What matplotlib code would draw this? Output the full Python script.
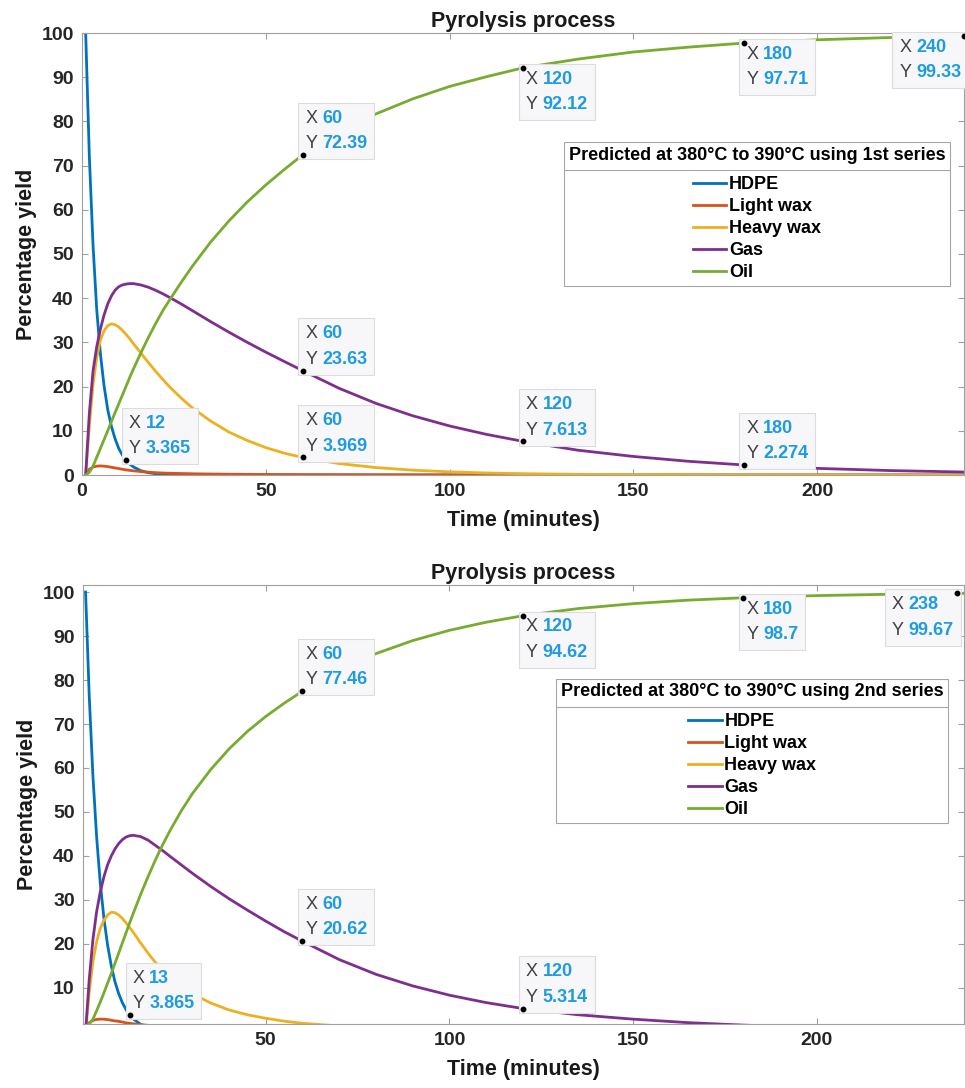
import matplotlib
matplotlib.use("Agg")
import matplotlib.pyplot as plt
from matplotlib.lines import Line2D
from matplotlib.offsetbox import AnnotationBbox, HPacker, VPacker, TextArea

plt.rcParams["font.family"] = ["Liberation Sans", "DejaVu Sans"]
plt.rcParams["font.weight"] = "bold"

# time grid (minutes) shared by both model runs
time = [1, 2, 3, 4, 5, 6, 7, 8, 9, 10, 11, 12, 13, 14, 16, 18, 20, 22, 24, 27, 30,
        35, 40, 45, 50, 55, 60, 70, 80, 90, 100, 110, 120, 135, 150, 165, 180,
        200, 220, 240]

names = ["HDPE", "Light wax", "Heavy wax", "Gas", "Oil"]

# ---- 1st series ----
hdpe_1 = [100, 72, 52, 37.5, 27.5, 20.2, 14.8, 11.0, 8.2, 6.0, 4.5, 3.365, 2.48, 1.82,
          0.98, 0.53, 0.29, 0.155, 0.084, 0.033, 0.013] + [0] * 19
light_1 = [0, 1.3, 1.8, 2.0, 2.05, 2.0, 1.9, 1.75, 1.6, 1.45, 1.3, 1.15, 1.05, 0.95,
           0.78, 0.64, 0.53, 0.45, 0.39, 0.33, 0.28, 0.22, 0.18, 0.15, 0.12, 0.10, 0.08,
           0.06, 0.04, 0.03, 0.02, 0.015, 0.01, 0.01, 0, 0, 0, 0, 0, 0]
heavy_1 = [0, 11, 20.5, 26.5, 30.5, 32.6, 33.8, 34.2, 34.0, 33.5, 32.7, 31.8, 30.8, 29.7,
           27.6, 25.5, 23.5, 21.6, 19.8, 17.4, 15.2, 12.2, 9.7, 7.8, 6.2, 4.95, 3.969,
           2.58, 1.68, 1.09, 0.71, 0.46, 0.30, 0.16, 0.08, 0.04, 0.02, 0.01, 0, 0]
gas_1 = [0, 14, 23.5, 29, 33, 36.2, 38.7, 40.5, 41.8, 42.6, 43.0, 43.2, 43.3, 43.3,
         43.0, 42.5, 41.8, 41.0, 40.1, 38.7, 37.2, 34.7, 32.3, 30.0, 27.8, 25.7, 23.63,
         19.6, 16.2, 13.4, 11.1, 9.2, 7.613, 5.6, 4.2, 3.1, 2.274, 1.5, 1.0, 0.67]
oil_1 = [0, 0.6, 2.0, 4.0, 6.0, 8.0, 10.0, 12.1, 14.1, 16.1, 18.1, 20.1, 22.1, 24.0,
         27.6, 31.0, 34.2, 37.2, 39.8, 43.6, 47.2, 52.7, 57.5, 61.8, 65.6, 69.1, 72.39,
         77.5, 81.7, 85.1, 87.9, 90.1, 92.12, 94.1, 95.7, 96.8, 97.71, 98.46, 98.98, 99.33]

# ---- 2nd series ----
hdpe_2 = [100, 76.3, 58.2, 44.4, 33.8, 25.8, 19.7, 15.0, 11.4, 8.73, 6.66, 5.08, 3.865, 2.95,
          1.71, 1.0, 0.58, 0.34, 0.2, 0.087, 0.039] + [0] * 19
light_2 = [0, 2.1, 2.6, 2.85, 2.9, 2.9, 2.8, 2.65, 2.5, 2.4, 2.25, 2.05, 1.95, 1.85,
           1.65, 1.5, 1.35, 1.2, 1.1, 0.95, 0.8, 0.65, 0.5, 0.4, 0.32, 0.25, 0.2,
           0.13, 0.08, 0.05, 0.03, 0.02, 0.01, 0, 0, 0, 0, 0, 0, 0]
heavy_2 = [0, 9, 16, 20.5, 23.5, 25.4, 26.6, 27.2, 27.1, 26.6, 25.8, 24.8, 23.7, 22.6,
           20.2, 17.9, 15.8, 14.0, 12.4, 10.4, 8.7, 6.6, 5.0, 3.9, 3.1, 2.45, 1.95,
           1.35, 0.95, 0.65, 0.45, 0.3, 0.2, 0.1, 0.05, 0.03, 0.02, 0.01, 0, 0]
gas_2 = [0, 12, 21, 27.3, 31.8, 35.3, 38.0, 40.0, 41.6, 42.8, 43.7, 44.3, 44.6, 44.7,
         44.4, 43.6, 42.4, 41.2, 39.9, 38.0, 36.1, 33.1, 30.3, 27.7, 25.2, 22.8, 20.62,
         16.45, 13.1, 10.46, 8.35, 6.66, 5.314, 3.9, 2.9, 2.1, 1.55, 1.0, 0.65, 0.4]
oil_2 = [0, 1.8, 2.9, 4.8, 6.8, 8.9, 11.1, 13.3, 15.6, 17.9, 20.2, 22.5, 24.8, 27.0,
         31.3, 35.3, 39.1, 42.6, 45.8, 50.2, 54.1, 59.6, 64.3, 68.3, 71.7, 74.7, 77.46,
         82.2, 86.0, 88.96, 91.3, 93.14, 94.62, 96.24, 97.36, 98.16, 98.7, 99.19, 99.5, 99.68]

# data tips shown on each panel
tips_x_1 = [12, 60, 60, 60, 120, 120, 180, 180, 240]
tips_y_1 = [3.365, 72.39, 23.63, 3.969, 92.12, 7.613, 97.71, 2.274, 99.33]
tips_x_2 = [13, 60, 60, 120, 120, 180, 238]
tips_y_2 = [3.865, 77.46, 20.62, 94.62, 5.314, 98.7, 99.67]
tips_side_1 = ["ur", "ur", "ur", "ur", "lr", "ur", "lr", "ur", "ll"]
tips_side_2 = ["ur", "ur", "ur", "lr", "ur", "lr", "ll"]

COLORS = ["#0072BD", "#D95319", "#EDB120", "#7E2F8E", "#77AC30"]
AX_GREY = "#a0a0a0"


def add_tip(ax, x, y, side):
    lab = dict(color="#404040", fontsize=13, fontweight="normal")
    val = dict(color="#1f9be0", fontsize=13, fontweight="bold")
    rows = [HPacker(children=[TextArea(k, textprops=lab), TextArea(f"{v:g}", textprops=val)],
                    sep=3.5, align="baseline")
            for k, v in (("X", x), ("Y", y))]
    box = VPacker(children=rows, sep=6, align="left")
    dx, dy, align = {"ur": (2, 2, (0, 0)), "lr": (2, -2, (0, 1)),
                     "ll": (-2, -2, (1, 1))}[side]
    ab = AnnotationBbox(box, (x, y), xybox=(dx, dy), boxcoords="offset points",
                        box_alignment=align, frameon=True, pad=0.5,
                        annotation_clip=False,
                        bboxprops=dict(facecolor="#f7f7f9", edgecolor="#dcdcdc",
                                       linewidth=0.8))
    ab.set_zorder(6)
    ax.add_artist(ab)
    ax.plot([x], [y], "o", color="black", ms=3.2, zorder=7, clip_on=False)


fig = plt.figure(figsize=(9.65, 10.88), dpi=100)
ax1 = fig.add_axes([82 / 965, 1 - 475 / 1088, 882 / 965, 442 / 1088])
ax2 = fig.add_axes([83 / 965, 1 - 1024 / 1088, 881 / 965, 439 / 1088])

panels = [
    (ax1, [hdpe_1, light_1, heavy_1, gas_1, oil_1], tips_x_1, tips_y_1, tips_side_1,
     "1st", (0, 240), (0, 100), [0, 50, 100, 150, 200], (0.984, 0.753)),
    (ax2, [hdpe_2, light_2, heavy_2, gas_2, oil_2], tips_x_2, tips_y_2, tips_side_2,
     "2nd", (0.3, 240), (1.8, 101.6), [50, 100, 150, 200], (0.982, 0.786)),
]

legends = []
for ax, series, tx, ty, ts, tag, xlim, ylim, xticks, anchor in panels:
    for ys, c in zip(series, COLORS):
        ax.plot(time, ys, color=c, lw=2)
    ax.set_xlim(*xlim)
    ax.set_ylim(*ylim)
    ax.set_xticks(xticks)
    ax.set_yticks(range(10 if ylim[0] > 0 else 0, 101, 10))
    for s in ax.spines.values():
        s.set_color(AX_GREY)
        s.set_linewidth(0.8)
    ax.tick_params(direction="in", length=4.5, width=0.8, color=AX_GREY, top=True,
                   right=True, labelsize=14, pad=6, labelcolor="#262626")
    ax.set_title("Pyrolysis process", fontsize=15.5, fontweight="bold", pad=4,
                 color="#1a1a1a")
    ax.set_xlabel("Time (minutes)", fontsize=15.5, fontweight="bold", labelpad=7,
                  color="#1a1a1a")
    ax.set_ylabel("Percentage yield", fontsize=15.5, fontweight="bold", labelpad=3,
                  color="#1a1a1a")

    leg = ax.legend(names, title=f"Predicted at 380°C to 390°C using {tag} series",
                    loc="upper right", bbox_to_anchor=anchor, borderaxespad=0,
                    prop={"weight": "bold", "size": 13},
                    title_fontproperties={"weight": "bold", "size": 13},
                    frameon=True, fancybox=False, edgecolor="#a6a6a6", framealpha=1,
                    handlelength=1.85, handletextpad=0.15, labelspacing=0.28,
                    borderpad=0.25)
    leg.get_frame().set_linewidth(0.8)
    leg.set_zorder(8)
    # a bit more room between the title row and the entries
    if hasattr(leg, "_legend_box"):
        leg._legend_box.sep = 9
    legends.append(leg)

    for x, y, side in zip(tx, ty, ts):
        add_tip(ax, x, y, side)

# rule between the legend title and its entries
fig.canvas.draw()
inv = fig.transFigure.inverted()
for leg in legends:
    fb = leg.get_frame().get_window_extent()
    tb = leg.get_title().get_window_extent()
    eb = leg.get_texts()[0].get_window_extent()
    ysep = (tb.y0 + eb.y1) / 2
    (x0, y0), (x1, _) = inv.transform([(fb.x0, ysep), (fb.x1, ysep)])
    fig.add_artist(Line2D([x0, x1], [y0, y0], transform=fig.transFigure,
                          color="#a6a6a6", lw=0.8, zorder=20))

fig.savefig("out.png", dpi=100, facecolor="white")
